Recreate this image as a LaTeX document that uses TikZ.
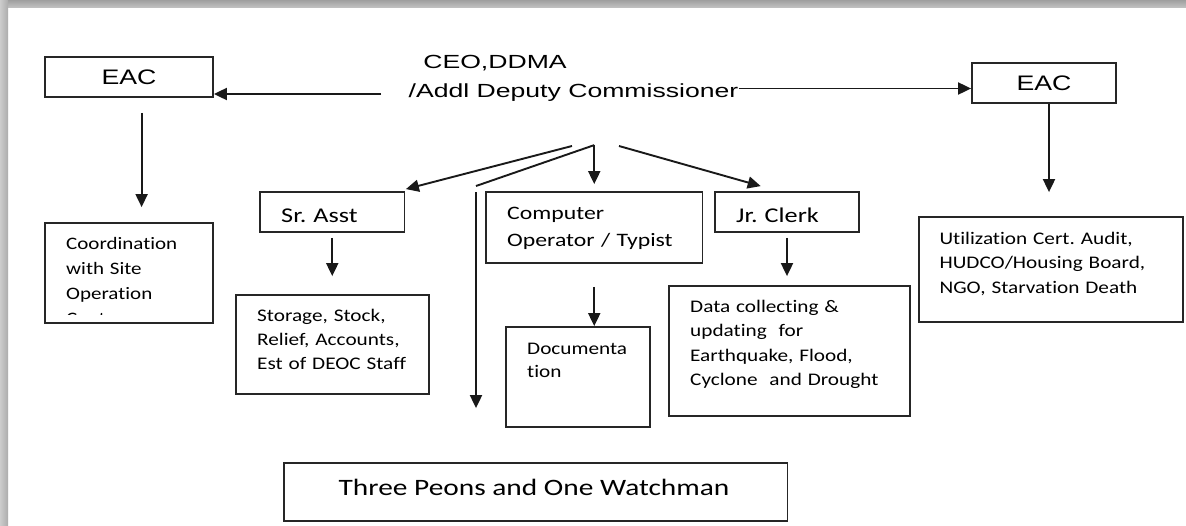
\documentclass[tikz,border=0pt]{standalone}
\usepackage{fontspec}
\setmainfont{Liberation Sans}
\usetikzlibrary{arrows.meta,calc}
% wide faces used throughout the chart
\newfontfamily\headfont[FakeStretch=1.4]{Liberation Sans}
\newfontfamily\eacfont[FakeStretch=1.27]{Liberation Sans}
\newfontfamily\calfont[FakeStretch=1.2,Ligatures=CommonOff]{Carlito}
\newfontfamily\calwide[FakeStretch=1.25,Ligatures=CommonOff]{Carlito}
\frenchspacing

\begin{document}
\begin{tikzpicture}[x=1pt,y=-1pt,
  box/.style={draw=black!85, line width=1.8pt, inner sep=0pt},
  conn/.style={line width=1.9pt, draw=black!90},
  arr/.style={conn, -{Triangle[length=13pt,width=12pt]}},
  txt/.style={inner sep=0pt, anchor=base west, text width=320pt, align=left},
  smalltxt/.style={txt, font=\calfont\fontsize{17.7pt}{24.5pt}\selectfont},
  midtxt/.style={txt, font=\calwide\fontsize{21pt}{26pt}\selectfont},
  headtxt/.style={inner sep=0pt, anchor=base, font=\headfont\fontsize{19pt}{23pt}\selectfont},
  eactxt/.style={font=\eacfont\fontsize{21pt}{25pt}\selectfont},
]
\useasboundingbox (0,0) rectangle (1186,525);
\fill[white] (0,0) rectangle (1186,525);
% page shadow along the top and left edges
\shade[top color=gray!75, bottom color=gray!50] (0,0) rectangle (1186,7);
\shade[left color=gray!40, right color=gray!65] (0,0) rectangle (8,525);

% heading
\node[headtxt] (ceo) at (495,68) {CEO,DDMA};
\node[headtxt] (addl) at (573.5,97) {/Addl Deputy Commissioner};

% boxes
\node[box, eactxt, minimum width=168pt, minimum height=40pt] (eacL) at (129,77) {EAC};
\node[box, eactxt, minimum width=144pt, minimum height=40pt] (eacR) at (1044,83) {EAC};
\node[box, minimum width=168pt, minimum height=100pt] (coord) at (129,273) {};
\node[box, minimum width=144.5pt, minimum height=40pt] (sr) at (332.25,212) {};
\node[box, minimum width=216.5pt, minimum height=71pt] (comp) at (594.25,227.5) {};
\node[box, minimum width=144pt, minimum height=40pt] (jr) at (787,212) {};
\node[box, minimum width=264pt, minimum height=105pt] (util) at (1051,269.5) {};
\node[box, minimum width=192.6pt, minimum height=99pt] (stor) at (332.3,344.5) {};
\node[box, minimum width=144pt, minimum height=100pt] (doc) at (578,377) {};
\node[box, minimum width=241pt, minimum height=130pt] (data) at (789.5,351) {};
\node[box, minimum width=503.5pt, minimum height=58pt] (peons) at (535.75,492) {};

% box texts (the last line of the first box is cut off by its frame)
\begin{scope}
  \clip (46,224) rectangle (212,314.5);
  \node[smalltxt, font=\calfont\fontsize{17.5pt}{24.9pt}\selectfont] (coordt) at (66,249.3)
    {Coordination\\with Site\\Operation\\Centre};
\end{scope}
\node[midtxt] (srt) at (281,222) {Sr. Asst};
\node[midtxt] (jrt) at (736,222) {Jr. Clerk};
\node[txt, font=\calwide\fontsize{19pt}{27.4pt}\selectfont] (compt) at (507,219.3)
  {Computer\\Operator / Typist};
\node[smalltxt, font=\calfont\fontsize{17.7pt}{24pt}\selectfont] (stort) at (257,321.7)
  {Storage, Stock,\\Relief, Accounts,\\Est of DEOC Staff};
\node[smalltxt, font=\calfont\fontsize{17.7pt}{23.7pt}\selectfont] (doct) at (527,354)
  {Documenta\\tion};
\node[smalltxt] (datat) at (690,312.3)
  {Data collecting \&\\updating\ \ for\\Earthquake, Flood,\\Cyclone\ \ and Drought};
\node[smalltxt] (utilt) at (939.4,244.3)
  {Utilization Cert. Audit,\\HUDCO/Housing Board,\\NGO, Starvation Death};
\node[inner sep=0pt, anchor=base, font=\calwide\fontsize{23.5pt}{28pt}\selectfont] (peonst)
  at (534,495) {Three Peons and One Watchman};

% connectors
\coordinate (lstart) at (381,94);
\draw[arr] (lstart) -- (lstart -| eacL.east);
\coordinate (rstart) at ($(addl.base east)+(0,-8.5)$);
\draw[arr] (rstart) -- (rstart -| eacR.west);

\draw[arr] ($(eacL.south)+(12.6,15)$) -- ($(coord.north)+(12.6,-15)$);
\draw[arr] ($(eacR.south)+(5,0)$) -- ($(util.north)+(-2,-24)$);

\coordinate (hubA) at (572,146);
\coordinate (hubB) at ($(comp.north)+(0,-46)$);
\coordinate (hubD) at (619,146);
\coordinate (drop) at (476,186);
\draw[arr] (hubA) -- ($(sr.north east)+(0.5,-2)$);
\draw[arr] (hubB) -- ($(comp.north)+(0,-7)$);
\draw[arr] (hubD) -- ($(jr.north west)+(46.6,-5)$);
\draw[conn] (hubB) -- (drop);
\draw[arr] ($(drop)+(0,6)$) -- ($(peons.north -| drop)+(0,-54)$);

\draw[arr] ($(sr.south)+(0,5)$) -- ($(stor.north -| sr.south)+(0,-18)$);
\draw[arr] ($(jr.south)+(0,5)$) -- ($(data.north -| jr.south)+(0,-9)$);
\draw[arr] ($(comp.south)+(0,23)$) -- (doc.north -| comp.south);
\end{tikzpicture}
\end{document}
